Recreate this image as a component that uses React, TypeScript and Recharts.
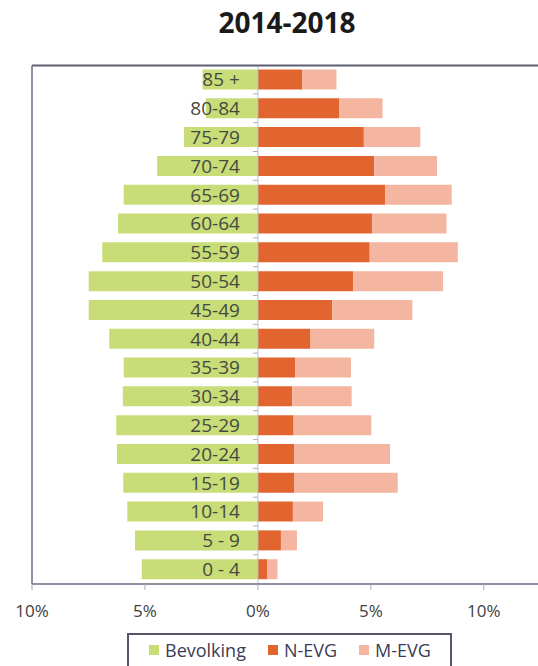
import React from 'react';
import { BarChart, Bar, XAxis, YAxis, Legend, LabelList, ReferenceLine } from 'recharts';

const ageGroups = ['85 +', '80-84', '75-79', '70-74', '65-69', '60-64', '55-59', '50-54', '45-49', '40-44', '35-39', '30-34', '25-29', '20-24', '15-19', '10-14', '5 - 9', '0 - 4'];
const bevolking = [2.45, 2.3, 3.27, 4.46, 5.94, 6.19, 6.89, 7.49, 7.49, 6.58, 5.94, 5.98, 6.27, 6.24, 5.96, 5.78, 5.44, 5.14];
const nEvg = [1.97, 3.59, 4.69, 5.15, 5.63, 5.05, 4.95, 4.22, 3.29, 2.33, 1.65, 1.52, 1.58, 1.62, 1.62, 1.55, 1.02, 0.41];
const mEvg = [1.51, 1.93, 2.5, 2.78, 2.95, 3.3, 3.9, 3.98, 3.55, 2.82, 2.47, 2.63, 3.44, 4.23, 4.57, 1.33, 0.71, 0.46];
const seriesNames = ['Bevolking', 'N-EVG', 'M-EVG'];
const xTicks = [-10, -5, 0, 5, 10];
const xDomain = [-10, 12.4];
const title = '2014-2018';

const data = ageGroups.map((age, i) => ({
  age,
  Bevolking: -bevolking[i],
  'N-EVG': nEvg[i],
  'M-EVG': mEvg[i],
}));

const FONT = "'Open Sans', sans-serif";
const FRAME = '#6b6b80';

const AgeLabel = (props: any) => {
  const { x, y, width, height, value, index } = props;
  const right = Math.max(Number(x), Number(x) + Number(width));
  const cy = Number(y) + Number(height) / 2;
  const last = index === ageGroups.length - 1;
  return (
    <g>
      <text x={right - 18} y={cy} dy="0.36em" textAnchor="end" fontSize={19} fill="#454a40" fontFamily={FONT}>
        {value}
      </text>
      {!last && (
        <line x1={right - 5} x2={right} y1={Number(y) + Number(height) + 4.4} y2={Number(y) + Number(height) + 4.4} stroke="#a8b0c4" strokeWidth={1} />
      )}
    </g>
  );
};

const LegendBox = (props: any) => {
  const payload = [...(props.payload || [])].sort(
    (a: any, b: any) => seriesNames.indexOf(a.value) - seriesNames.indexOf(b.value)
  );
  return (
    <div
      style={{
        boxSizing: 'border-box',
        width: 325,
        height: 42,
        border: '2px solid #55556e',
        paddingLeft: 20,
        fontFamily: FONT,
      }}
    >
      <div style={{ display: 'flex', alignItems: 'center', height: 30, whiteSpace: 'nowrap' }}>
        {payload.map((p: any, i: number) => (
          <div key={i} style={{ display: 'flex', alignItems: 'center', marginRight: 22, flexShrink: 0 }}>
            <span style={{ display: 'inline-block', width: 10, height: 10, background: p.color, marginRight: 6, flexShrink: 0 }} />
            <span style={{ fontSize: 18, color: '#3c3c58', lineHeight: '20px', whiteSpace: 'nowrap' }}>{p.value}</span>
          </div>
        ))}
      </div>
    </div>
  );
};

export default function App() {
  return (
    <div style={{ position: 'absolute', left: 0, top: 0, width: 538, height: 666, overflow: 'hidden', background: '#fff', fontFamily: FONT }}>
      <div
        style={{
          position: 'absolute',
          left: 217,
          top: 8,
          width: 140,
          textAlign: 'center',
          fontSize: 28,
          lineHeight: '28px',
          fontWeight: 700,
          color: '#1a1a1a',
          fontFamily: FONT,
          whiteSpace: 'nowrap',
        }}
      >
        {title}
      </div>
      <BarChart
        width={538}
        height={666}
        data={data}
        layout="vertical"
        stackOffset="sign"
        barSize={20}
        margin={{ top: 64.5, left: 32, right: 0, bottom: 52 }}
      >
        <XAxis
          type="number"
          domain={xDomain}
          ticks={xTicks}
          allowDataOverflow
          height={30}
          tickFormatter={(v: number) => `${Math.abs(v)}%`}
          axisLine={{ stroke: FRAME, strokeWidth: 1.5 }}
          tickLine={{ stroke: '#a8a8b8' }}
          tickSize={6}
          tickMargin={15}
          tick={{ fontSize: 17, fill: '#404040', fontFamily: FONT }}
        />
        <XAxis
          xAxisId="top"
          orientation="top"
          type="number"
          domain={xDomain}
          allowDataOverflow
          ticks={xTicks}
          height={1}
          tick={false}
          tickLine={false}
          axisLine={{ stroke: '#5e5e74', strokeWidth: 2 }}
        />
        <YAxis type="category" dataKey="age" mirror tick={false} tickLine={false} axisLine={{ stroke: FRAME, strokeWidth: 1.5 }} />
        <ReferenceLine x={0} stroke="#b8c0d0" strokeWidth={1} />
        <Bar dataKey="Bevolking" stackId="a" fill="#c8dc78" isAnimationActive={false}>
          <LabelList dataKey="age" content={AgeLabel} />
        </Bar>
        <Bar dataKey="N-EVG" stackId="a" fill="#e26530" isAnimationActive={false} />
        <Bar dataKey="M-EVG" stackId="a" fill="#f4b6a0" isAnimationActive={false} />
        <Legend
          layout="horizontal"
          verticalAlign="middle"
          align="center"
          itemSorter={null as any}
          content={LegendBox}
          wrapperStyle={{ position: 'absolute', left: 127, top: 633, width: 325, height: 42 }}
        />
      </BarChart>
    </div>
  );
}
